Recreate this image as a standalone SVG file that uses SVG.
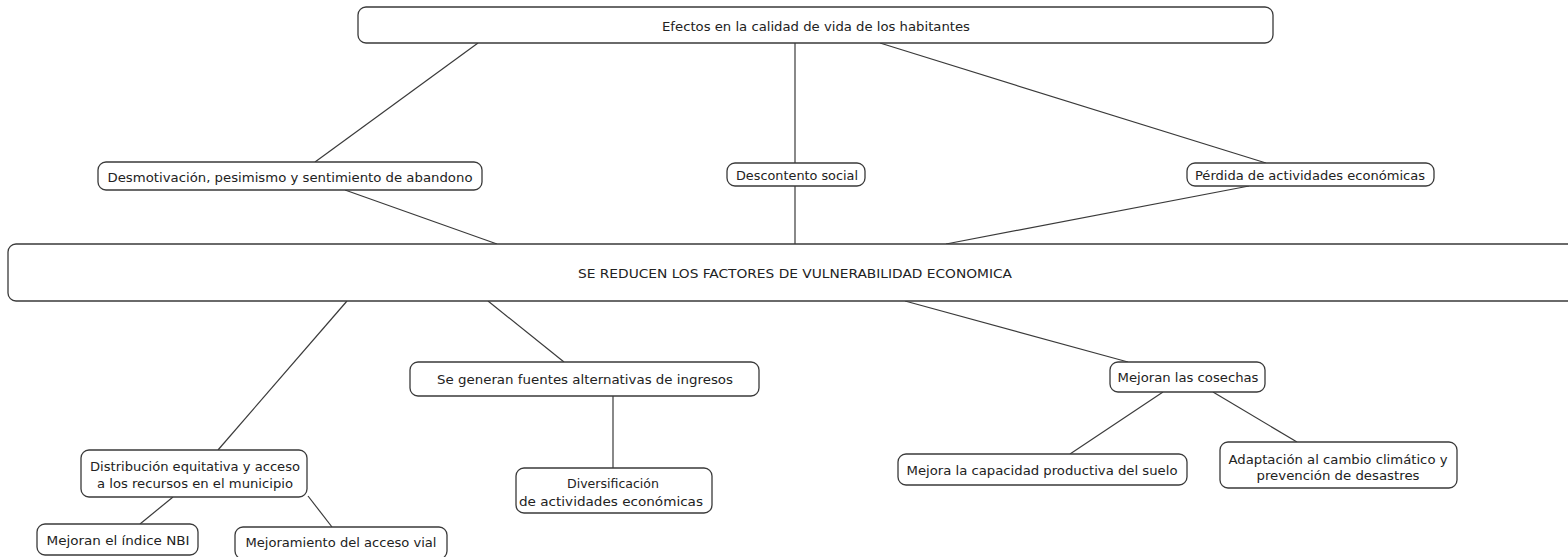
<svg xmlns="http://www.w3.org/2000/svg" width="1568" height="557" viewBox="0 0 1568 557">
<style>
.n{fill:#fff;stroke:#3a3a3a;stroke-width:1.3}
.t{font-family:"DejaVu Sans Condensed","DejaVu Sans",sans-serif;font-size:13px;fill:#222;text-anchor:middle;dominant-baseline:central}
.c line{stroke:#3a3a3a;stroke-width:1.2}
</style>
<rect width="1568" height="557" fill="#fff"/>
<g class="c" id="connectors">
<line x1="478" y1="43" x2="315" y2="162"/>
<line x1="795" y1="43" x2="795" y2="163"/>
<line x1="880" y1="43" x2="1266" y2="163"/>
<line x1="345" y1="190" x2="497" y2="244"/>
<line x1="795" y1="186" x2="795" y2="244"/>
<line x1="1249" y1="186" x2="946" y2="244"/>
<line x1="347" y1="301" x2="218" y2="450"/>
<line x1="488" y1="301" x2="564" y2="362"/>
<line x1="905" y1="301" x2="1128" y2="362"/>
<line x1="613" y1="396" x2="613" y2="468"/>
<line x1="173" y1="497" x2="140" y2="524"/>
<line x1="308" y1="496" x2="332" y2="527"/>
<line x1="1163" y1="392" x2="1070" y2="454"/>
<line x1="1213" y1="392" x2="1297" y2="442"/>
</g>
<g id="n-efectos">
<rect class="n" x="358" y="7" width="915" height="36" rx="8"/>
<text class="t" x="816" y="26" font-size="12" textLength="308" lengthAdjust="spacingAndGlyphs">Efectos en la calidad de vida de los habitantes</text>
</g>
<g id="n-desmotivacion">
<rect class="n" x="98" y="162" width="384" height="28" rx="8"/>
<text class="t" x="290" y="177" textLength="365" lengthAdjust="spacingAndGlyphs">Desmotivación, pesimismo y sentimiento de abandono</text>
</g>
<g id="n-descontento">
<rect class="n" x="727" y="163" width="138" height="23" rx="8"/>
<text class="t" x="797" y="175" textLength="122" lengthAdjust="spacingAndGlyphs">Descontento social</text>
</g>
<g id="n-perdida">
<rect class="n" x="1187" y="163" width="247" height="23" rx="8"/>
<text class="t" x="1310" y="175" textLength="230" lengthAdjust="spacingAndGlyphs">Pérdida de actividades económicas</text>
</g>
<g id="n-reducen">
<rect class="n" x="8" y="244" width="1574" height="57" rx="8"/>
<text class="t" x="795" y="273" font-size="14" textLength="434" lengthAdjust="spacingAndGlyphs">SE REDUCEN LOS FACTORES DE VULNERABILIDAD ECONOMICA</text>
</g>
<g id="n-distribucion">
<rect class="n" x="81" y="450" width="226" height="47" rx="8"/>
<text class="t" x="195" y="466" textLength="210" lengthAdjust="spacingAndGlyphs">Distribución equitativa y acceso</text>
<text class="t" x="195" y="483" textLength="196" lengthAdjust="spacingAndGlyphs">a los recursos en el municipio</text>
</g>
<g id="n-fuentes">
<rect class="n" x="410" y="362" width="349" height="34" rx="8"/>
<text class="t" x="585" y="379" textLength="296" lengthAdjust="spacingAndGlyphs">Se generan fuentes alternativas de ingresos</text>
</g>
<g id="n-diversificacion">
<rect class="n" x="516" y="468" width="196" height="45" rx="8"/>
<text class="t" x="613" y="483" textLength="92" lengthAdjust="spacingAndGlyphs">Diversificación</text>
<text class="t" x="611" y="501" textLength="184" lengthAdjust="spacingAndGlyphs">de actividades económicas</text>
</g>
<g id="n-nbi">
<rect class="n" x="37" y="524" width="161" height="31" rx="8"/>
<text class="t" x="118" y="540" textLength="143" lengthAdjust="spacingAndGlyphs">Mejoran el índice NBI</text>
</g>
<g id="n-vial">
<rect class="n" x="235" y="527" width="212" height="32" rx="8"/>
<text class="t" x="341" y="542" textLength="191" lengthAdjust="spacingAndGlyphs">Mejoramiento del acceso vial</text>
</g>
<g id="n-cosechas">
<rect class="n" x="1110" y="362" width="155" height="30" rx="8"/>
<text class="t" x="1188" y="377" textLength="141" lengthAdjust="spacingAndGlyphs">Mejoran las cosechas</text>
</g>
<g id="n-suelo">
<rect class="n" x="898" y="454" width="289" height="31" rx="8"/>
<text class="t" x="1042" y="470" textLength="271" lengthAdjust="spacingAndGlyphs">Mejora la capacidad productiva del suelo</text>
</g>
<g id="n-adaptacion">
<rect class="n" x="1220" y="442" width="237" height="46" rx="8"/>
<text class="t" x="1338" y="459" textLength="219" lengthAdjust="spacingAndGlyphs">Adaptación al cambio climático y</text>
<text class="t" x="1338" y="475" textLength="163" lengthAdjust="spacingAndGlyphs">prevención de desastres</text>
</g>
</svg>
